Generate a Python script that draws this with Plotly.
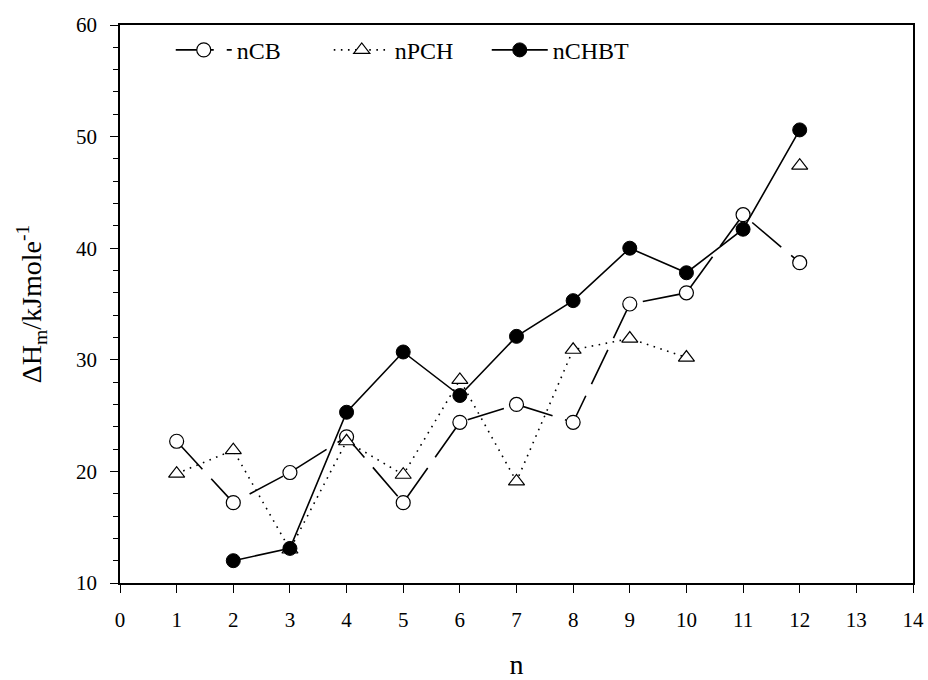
import plotly.graph_objects as go

n = [1, 2, 3, 4, 5, 6, 7, 8, 9, 10, 11, 12]
ncb = [22.7, 17.2, 19.9, 23.1, 17.2, 24.4, 26.0, 24.4, 35.0, 36.0, 43.0, 38.7]
npch = [19.8, 21.9, 13.0, 22.7, 19.7, 28.2, 19.1, 30.9, 31.9, 30.2, None, 47.4]
nchbt = [None, 12.0, 13.1, 25.3, 30.7, 26.8, 32.1, 35.3, 40.0, 37.8, 41.7, 50.6]

x_ticks = list(range(0, 15))
y_ticks = [10, 20, 30, 40, 50, 60]

FONT = "Liberation Serif"

fig = go.Figure()
fig.add_trace(go.Scatter(
    x=n, y=ncb, name="nCB", mode="lines+markers",
    line=dict(color="black", width=1.6, dash="38px,13px"),
    marker=dict(symbol="circle", size=14, color="white", line=dict(color="black", width=1.2)),
))
fig.add_trace(go.Scatter(
    x=n, y=npch, name="nPCH", mode="lines+markers", connectgaps=False,
    line=dict(color="black", width=1.6, dash="1.6px,5.5px"),
    marker=dict(symbol="triangle-up", size=14, color="white", line=dict(color="black", width=1.2)),
))
fig.add_trace(go.Scatter(
    x=n, y=nchbt, name="nCHBT", mode="lines+markers",
    line=dict(color="black", width=1.6),
    marker=dict(symbol="circle", size=14, color="black", line=dict(color="black", width=1)),
))

fig.update_layout(
    width=928, height=680,
    paper_bgcolor="white", plot_bgcolor="white",
    margin=dict(l=120, r=15, t=25, b=97),
    font=dict(family=FONT, color="black", size=21),
    showlegend=True,
    legend=dict(
        orientation="h", x=0.064, y=0.995, xanchor="left", yanchor="top",
        font=dict(family=FONT, size=24), bgcolor="rgba(0,0,0,0)",
        entrywidth=87, entrywidthmode="pixels", itemwidth=56,
    ),
)
fig.update_xaxes(
    range=[0, 14], tickvals=x_ticks, ticktext=[str(v) for v in x_ticks],
    showgrid=False, zeroline=False, showline=True, linecolor="black", linewidth=1.5,
    mirror=True, ticks="outside", ticklen=8, tickwidth=1.2, tickcolor="black",
    tickfont=dict(family=FONT, size=21), automargin=False, ticklabelstandoff=9,
    ticklabeloverflow="allow",
    title=dict(text="n", font=dict(family=FONT, size=28), standoff=30),
)
fig.update_yaxes(
    range=[10, 60], tickvals=y_ticks, ticktext=[str(v) for v in y_ticks],
    showgrid=False, zeroline=False, showline=True, linecolor="black", linewidth=1.5,
    mirror=True, ticks="outside", ticklen=8, tickwidth=1.2, tickcolor="black",
    minor=dict(dtick=2, ticks="outside", ticklen=5, tickwidth=1, tickcolor="black", showgrid=False),
    tickfont=dict(family=FONT, size=21), automargin=False, ticklabelstandoff=9,
    title=dict(text="ΔH<sub>m</sub>/kJmole<sup>-1</sup>", font=dict(family=FONT, size=28), standoff=26),
)

fig.write_html(
    "out.html",
    config={"displayModeBar": False},
    post_script="document.body.style.margin='0';document.body.style.overflow='hidden';",
)
